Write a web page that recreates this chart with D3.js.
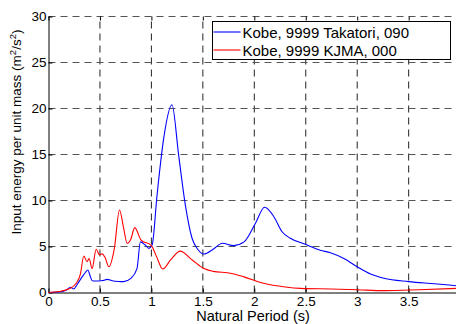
<!DOCTYPE html>
<html>
<head>
<meta charset="utf-8">
<script src="https://cdn.jsdelivr.net/npm/d3@7"></script>
<style>
  body { margin: 0; background: #fff; }
  text { font-family: Arial, "Liberation Sans", sans-serif; }
</style>
</head>
<body>
<div id="chart"></div>
<script>
// Kobe, 9999 Takatori, 090 (period in s, energy in m2/s2)
const takatoriT = [0, 0.1, 0.17, 0.214, 0.246, 0.28, 0.327, 0.36, 0.382, 0.405, 0.424, 0.46, 0.49, 0.53, 0.57, 0.62, 0.68, 0.73, 0.8, 0.86, 0.893, 0.94, 0.975, 1.007, 1.055, 1.12, 1.2, 1.265, 1.33, 1.395, 1.45, 1.51, 1.6, 1.69, 1.8, 1.9, 2.01, 2.1, 2.19, 2.27, 2.35, 2.495, 2.64, 2.74, 2.87, 3.0, 3.13, 3.26, 3.5, 3.75, 3.96];
const takatoriE = [0, 0.05, 0.25, 0.57, 0.38, 0.9, 1.7, 2.2, 2.45, 1.8, 1.28, 1.25, 1.25, 1.3, 1.43, 1.28, 1.2, 1.18, 1.54, 2.6, 5.5, 5.16, 4.8, 5.16, 10.6, 16.8, 20.4, 14.9, 9.5, 5.9, 4.7, 4.18, 4.7, 5.35, 5.1, 5.5, 7.5, 9.26, 8.24, 6.6, 5.9, 5.24, 4.6, 4.33, 3.7, 2.8, 2.0, 1.54, 1.18, 0.95, 0.74];

// Kobe, 9999 KJMA, 000
const kjmaT = [0, 0.1, 0.2, 0.27, 0.31, 0.343, 0.375, 0.395, 0.424, 0.463, 0.495, 0.52, 0.55, 0.586, 0.64, 0.69, 0.73, 0.764, 0.8, 0.838, 0.9, 1.0, 1.05, 1.11, 1.19, 1.28, 1.4, 1.51, 1.6, 1.77, 1.9, 2.09, 2.3, 2.45, 2.74, 3.0, 3.26, 3.6, 3.96];
const kjmaE = [0, 0.1, 0.4, 1.0, 2.0, 3.97, 3.35, 3.7, 2.6, 4.7, 4.1, 4.2, 3.8, 2.8, 4.8, 8.97, 7.0, 5.35, 5.8, 7.05, 5.7, 5.1, 3.9, 2.55, 3.6, 4.5, 3.5, 2.6, 2.3, 2.1, 1.7, 1.0, 0.6, 0.45, 0.38, 0.3, 0.2, 0.3, 0.45];

const xTicks = [0, 0.5, 1, 1.5, 2, 2.5, 3, 3.5];
const yTicks = [0, 5, 10, 15, 20, 25, 30];
const seriesNames = ["Kobe, 9999 Takatori, 090", "Kobe, 9999 KJMA, 000"];
const seriesColors = ["#0000ff", "#ff0000"];

const width = 456, height = 324;
const margin = { top: 16.5, right: 0, bottom: 31.5, left: 48.5 };

const svg = d3.select("#chart").append("svg")
    .attr("width", width)
    .attr("height", height);

const xScale = d3.scaleLinear().domain([0, 3.96]).range([margin.left, width - margin.right]);
const yScale = d3.scaleLinear().domain([0, 30]).range([height - margin.bottom, margin.top]);

// grid
svg.append("g").selectAll("line")
    .data(xTicks.slice(1))
    .join("line")
    .attr("x1", d => xScale(d)).attr("x2", d => xScale(d))
    .attr("y1", yScale(0)).attr("y2", yScale(30))
    .attr("stroke", "#222").attr("stroke-width", 1)
    .attr("stroke-dasharray", "7,5");

svg.append("g").selectAll("line")
    .data(yTicks.slice(1))
    .join("line")
    .attr("x1", xScale(0)).attr("x2", width)
    .attr("y1", d => yScale(d)).attr("y2", d => yScale(d))
    .attr("stroke", "#555").attr("stroke-width", 1)
    .attr("stroke-dasharray", "7,5");

// axes
const xAxis = svg.append("g")
    .attr("transform", "translate(0," + yScale(0) + ")")
    .call(d3.axisBottom(xScale).tickValues(xTicks).tickSizeInner(-4).tickSizeOuter(0).tickPadding(4).tickFormat(d3.format("")));
const yAxis = svg.append("g")
    .attr("transform", "translate(" + xScale(0) + ",0)")
    .call(d3.axisLeft(yScale).tickValues(yTicks).tickSizeInner(-4).tickSizeOuter(0).tickPadding(2));
const topAxis = svg.append("g")
    .attr("transform", "translate(0," + yScale(30) + ")")
    .call(d3.axisTop(xScale).tickValues(xTicks).tickSizeInner(-4).tickSizeOuter(0).tickFormat(""));
topAxis.select(".domain").remove();

[xAxis, yAxis, topAxis].forEach(a => {
    a.attr("font-size", null).attr("font-family", null);
    a.selectAll("text").style("font-size", "13.5px").attr("fill", "#000");
    a.selectAll("line").attr("stroke", "#000");
    a.selectAll(".domain").attr("stroke", "#000");
});

// lines
const line = d3.line()
    .x(d => xScale(d[0]))
    .y(d => yScale(d[1]))
    .curve(d3.curveMonotoneX);

const series = [
    d3.zip(takatoriT, takatoriE),
    d3.zip(kjmaT, kjmaE)
];

svg.append("g").selectAll("path")
    .data(series)
    .join("path")
    .attr("d", line)
    .attr("fill", "none")
    .attr("stroke", (d, i) => seriesColors[i])
    .attr("stroke-width", 1.1);

// legend
const legend = svg.append("g").attr("transform", "translate(212.5,21.5)");
legend.append("rect")
    .attr("width", 238).attr("height", 38)
    .attr("fill", "#fff").attr("stroke", "#000").attr("stroke-width", 1);
seriesNames.forEach((name, i) => {
    const y = 10.5 + i * 18;
    legend.append("line")
        .attr("x1", 1).attr("x2", 28).attr("y1", y).attr("y2", y)
        .attr("stroke", seriesColors[i]).attr("stroke-width", 1.1);
    legend.append("text")
        .attr("x", 30).attr("y", y + 5.5)
        .style("font-size", "15px")
        .text(name);
});

// axis labels
svg.append("text")
    .attr("x", 253).attr("y", 321)
    .attr("text-anchor", "middle")
    .style("font-size", "14.5px")
    .text("Natural Period (s)");

const yl = svg.append("text")
    .attr("transform", "translate(21,132) rotate(-90)")
    .attr("text-anchor", "middle")
    .style("font-size", "13.5px");
yl.append("tspan").text("Input energy per unit mass (m");
yl.append("tspan").attr("dy", -5).style("font-size", "9.5px").text("2");
yl.append("tspan").attr("dy", 5).text("/s");
yl.append("tspan").attr("dy", -5).style("font-size", "9.5px").text("2");
yl.append("tspan").attr("dy", 5).text(")");
</script>
</body>
</html>
